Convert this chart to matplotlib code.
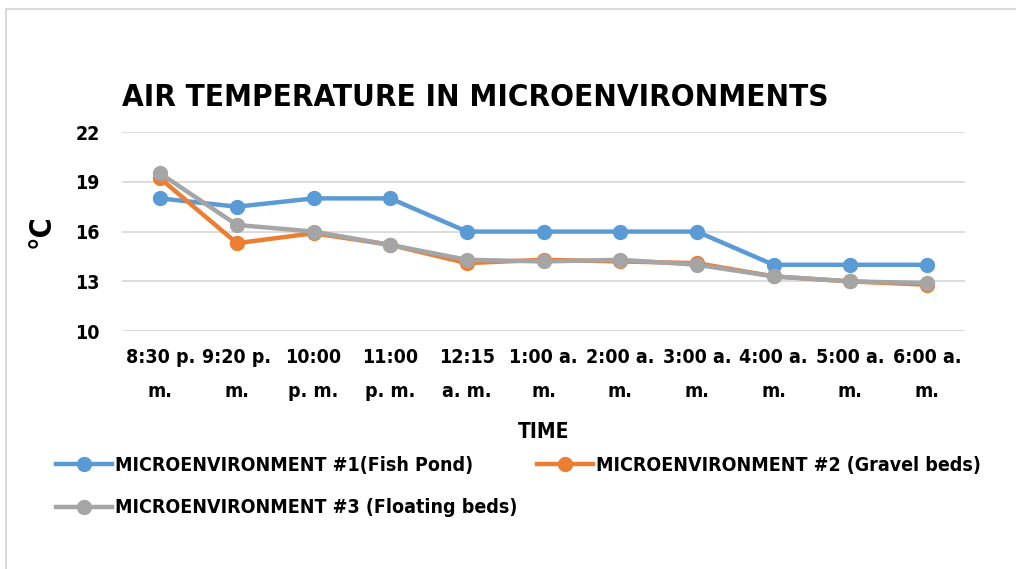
import numpy as np
import matplotlib
matplotlib.use('Agg')
import matplotlib.pyplot as plt
from matplotlib.patches import Rectangle

plt.rcParams['font.family'] = ['DejaVu Sans']
plt.rcParams['font.stretch'] = 'condensed'
plt.rcParams['font.weight'] = 'bold'

# data
times = ['8:30 p.\nm.', '9:20 p.\nm.', '10:00\np. m.', '11:00\np. m.', '12:15\na. m.',
         '1:00 a.\nm.', '2:00 a.\nm.', '3:00 a.\nm.', '4:00 a.\nm.', '5:00 a.\nm.', '6:00 a.\nm.']
fish_pond = [18.0, 17.5, 18.0, 18.0, 16.0, 16.0, 16.0, 16.0, 14.0, 14.0, 14.0]
gravel_beds = [19.2, 15.3, 15.9, 15.2, 14.1, 14.3, 14.2, 14.1, 13.3, 13.0, 12.8]
floating_beds = [19.5, 16.4, 16.0, 15.2, 14.3, 14.2, 14.3, 14.0, 13.3, 13.0, 12.9]
yticks = [10, 13, 16, 19, 22]

labels = ['MICROENVIRONMENT #1(Fish Pond)',
          'MICROENVIRONMENT #2 (Gravel beds)',
          'MICROENVIRONMENT #3 (Floating beds)']
colors = ['#5B9BD5', '#ED7D31', '#A5A5A5']

fig = plt.figure(figsize=(10.16, 5.69), dpi=100)
ax = fig.add_axes([0.120, 0.418, 0.830, 0.350])

x = np.arange(len(times))
handles = []
for series, lab, col in zip([fish_pond, gravel_beds, floating_beds], labels, colors):
    h, = ax.plot(x, series, color=col, linewidth=3.2, marker='o', markersize=10,
                 label=lab, zorder=3)
    handles.append(h)

ax.set_xlim(-0.5, len(times) - 0.5)
ax.set_ylim(10, 22)
ax.set_yticks(yticks)
ax.set_xticks(x)
ax.set_xticklabels(times, fontsize=14, fontweight='bold', linespacing=2.0)
for lbl in ax.get_yticklabels():
    lbl.set_fontsize(14)
    lbl.set_fontweight('bold')
ax.tick_params(length=0, pad=12)
ax.tick_params(axis='y', pad=16)
ax.grid(axis='y', color='#D9D9D9', linewidth=1.3, zorder=0)
for s in ax.spines.values():
    s.set_visible(False)

ax.set_xlabel('TIME', fontsize=15, fontweight='bold', labelpad=15)
ax.set_ylabel('°C', fontsize=22, fontweight='bold', labelpad=14)
ax.set_title('AIR TEMPERATURE IN MICROENVIRONMENTS', fontsize=22.5, fontweight='bold',
             loc='left', pad=19)

fig.legend([handles[0], handles[2], handles[1]], [labels[0], labels[2], labels[1]],
           ncol=2, loc='upper left', bbox_to_anchor=(0.047, 0.212), frameon=False,
           prop={'size': 14, 'weight': 'bold', 'stretch': 'condensed'},
           handlelength=2.9, handletextpad=0.15,
           columnspacing=1.0, labelspacing=1.2, borderaxespad=0)

fig.patches.append(Rectangle((0.006, -0.01), 1.0, 0.995, transform=fig.transFigure,
                             fill=False, edgecolor='#D9D9D9', linewidth=1.5))

fig.savefig('out.png', dpi=100)
